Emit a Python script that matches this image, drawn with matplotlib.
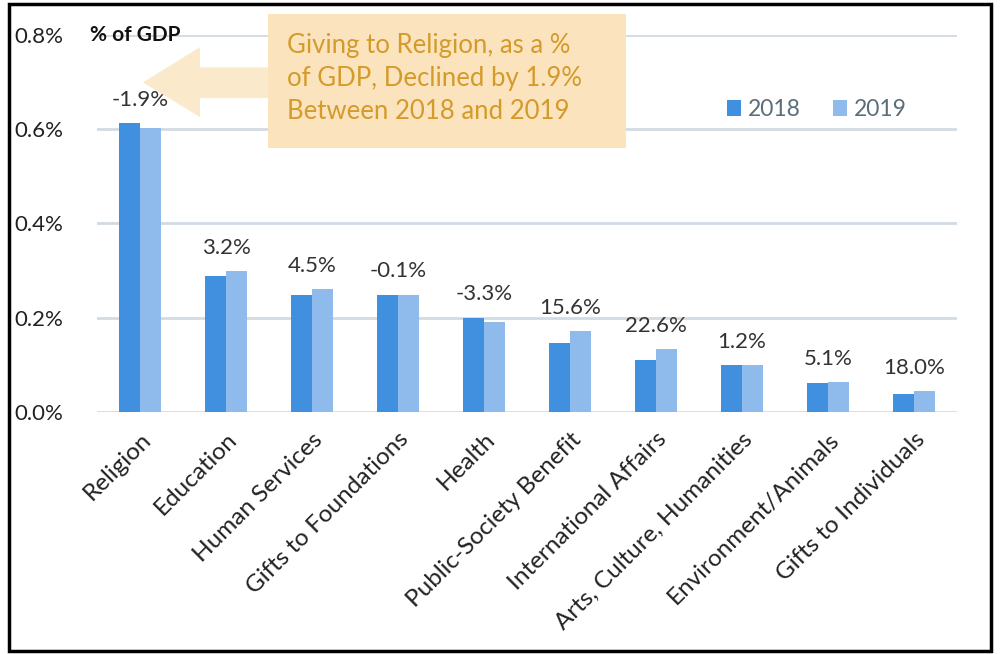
import matplotlib
matplotlib.use("Agg")
import matplotlib.pyplot as plt
import numpy as np
from matplotlib.patches import Rectangle, Polygon

plt.rcParams['font.family'] = ['Lato', 'DejaVu Sans']

# --- data ---
categories = ["Religion", "Education", "Human Services", "Gifts to Foundations",
              "Health", "Public-Society Benefit", "International Affairs",
              "Arts, Culture, Humanities", "Environment/Animals", "Gifts to Individuals"]
share_2018 = [0.613, 0.289, 0.249, 0.249, 0.200, 0.147, 0.110, 0.099, 0.061, 0.039]
share_2019 = [0.602, 0.298, 0.260, 0.249, 0.191, 0.172, 0.134, 0.100, 0.064, 0.045]
change_labels = ["-1.9%", "3.2%", "4.5%", "-0.1%", "-3.3%",
                 "15.6%", "22.6%", "1.2%", "5.1%", "18.0%"]
y_ticks = [0.0, 0.2, 0.4, 0.6, 0.8]

c18 = "#418fdf"
c19 = "#8fbbec"
grid_c = "#d3dbe2"

fig = plt.figure(figsize=(10, 6.54), dpi=100)
ax = fig.add_axes([0.097, 0.37, 0.86, 0.577])

x = np.arange(len(categories))
w = 0.24
ax.bar(x - w / 2, share_2018, w, color=c18, label="2018", zorder=3)
ax.bar(x + w / 2, share_2019, w, color=c19, label="2019", zorder=3)

for i, lab in enumerate(change_labels):
    top = max(share_2018[i], share_2019[i])
    ax.text(x[i], top + 0.028, lab, ha="center", va="bottom",
            fontsize=16, color="#333333")

ax.set_xlim(-0.5, len(categories) - 0.5)
ax.set_ylim(0, 0.8)
ax.set_yticks(y_ticks)
ax.set_yticklabels([f"{v:.1f}%" for v in y_ticks], fontsize=16, color="#222222")
ax.set_xticks(x)
ax.set_xticklabels(categories, rotation=45, ha="right", rotation_mode="anchor",
                   fontsize=17.5, color="#222222")
ax.tick_params(axis="x", length=0, pad=12)
ax.tick_params(axis="y", length=0, pad=24)
ax.yaxis.grid(True, color=grid_c, linewidth=2, zorder=0)
for s in ax.spines.values():
    s.set_visible(False)

ax.legend(loc="upper right", bbox_to_anchor=(0.965, 0.885), ncol=2, frameon=False,
          fontsize=16.5, handlelength=0.6, handleheight=0.7, columnspacing=1.4,
          handletextpad=0.3, labelcolor="#5b6e7a")

# axis title
fig.text(0.090, 0.947, "% of GDP", fontsize=15, fontweight="bold",
         ha="left", va="center", color="#111111")

# annotation arrow + callout box
arrow = Polygon([[0.143, 0.874], [0.200, 0.928], [0.200, 0.897], [0.280, 0.897],
                 [0.280, 0.850], [0.200, 0.850], [0.200, 0.821]],
                closed=True, transform=fig.transFigure, facecolor="#fbe9cc",
                edgecolor="none", zorder=5)
fig.patches.append(arrow)
box = Rectangle((0.268, 0.774), 0.358, 0.205, transform=fig.transFigure,
                facecolor="#fbe4bd", edgecolor="none", zorder=6)
fig.patches.append(box)
fig.text(0.287, 0.880, "Giving to Religion, as a %\nof GDP, Declined by 1.9%\nBetween 2018 and 2019",
         fontsize=18.5, color="#d49a2a", ha="left", va="center",
         linespacing=1.4, zorder=7)

# outer frame
frame = Rectangle((0.009, 0.004), 0.982, 0.99, transform=fig.transFigure,
                  facecolor="none", edgecolor="black", linewidth=2.5)
fig.patches.append(frame)

fig.savefig("out.png", dpi=100)
